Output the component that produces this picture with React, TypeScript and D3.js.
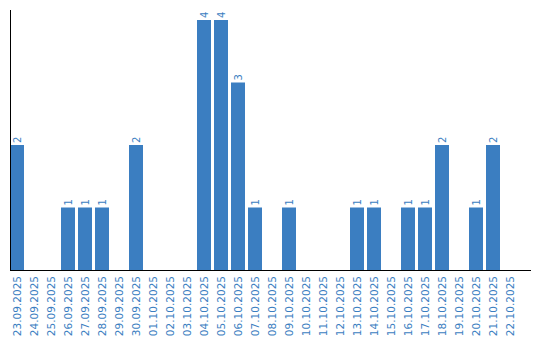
import React from "react";
import * as d3 from "d3";

const categories = ["23.09.2025","24.09.2025","25.09.2025","26.09.2025","27.09.2025","28.09.2025","29.09.2025","30.09.2025","01.10.2025","02.10.2025","03.10.2025","04.10.2025","05.10.2025","06.10.2025","07.10.2025","08.10.2025","09.10.2025","10.10.2025","11.10.2025","12.10.2025","13.10.2025","14.10.2025","15.10.2025","16.10.2025","17.10.2025","18.10.2025","19.10.2025","20.10.2025","21.10.2025","22.10.2025"];
const values = [2,0,0,1,1,1,0,2,0,0,0,4,4,3,1,0,1,0,0,0,1,1,0,1,1,2,0,1,2,0];

const W = 540, H = 340;
const left = 10, top = 10, base = 270, axisEnd = 531;
const color = "#3b7ec1";
const font = "DejaVu Sans, Verdana, sans-serif";

export default function App() {
  const x = d3.scaleBand<string>().domain(categories).range([left, left + 17 * categories.length])
    .paddingInner(3 / 17).paddingOuter(3 / 34).align(0);
  const y = d3.scaleLinear().domain([0, 4.16]).range([base, top]);
  return (
    <svg width={W} height={H} style={{ position: "absolute", left: 0, top: 0 }}>
      {categories.map((c, i) => values[i] > 0 ? (
        <g key={c}>
          <rect x={x(c)} y={y(values[i])} width={x.bandwidth()} height={base - y(values[i])} fill={color} />
          <text transform={`translate(${x(c)! + x.bandwidth() / 2 + 3.5},${y(values[i]) - 2}) rotate(-90)`}
            fontFamily={font} fontSize={10} fill={color}>{values[i]}</text>
        </g>
      ) : null)}
      {categories.map((c) => (
        <text key={"l" + c} transform={`translate(${x(c)! + x.bandwidth() / 2 + 4},${base + 6}) rotate(-90)`}
          textAnchor="end" fontFamily={font} fontSize={10.5} fill={color}>{c}</text>
      ))}
      <line x1={left + 0.5} x2={left + 0.5} y1={top} y2={base} stroke="#000" />
      <line x1={left} x2={axisEnd} y1={base + 0.5} y2={base + 0.5} stroke="#000" />
    </svg>
  );
}
